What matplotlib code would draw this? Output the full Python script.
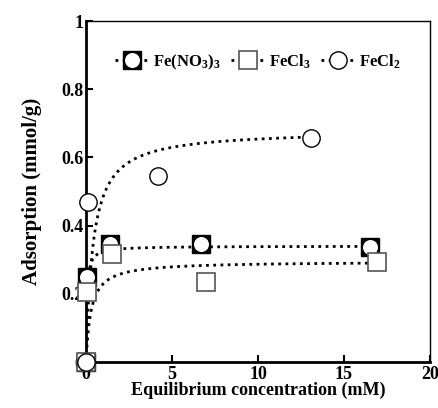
import numpy as np
import matplotlib
matplotlib.use("Agg")
import matplotlib.pyplot as plt
from matplotlib.lines import Line2D
from matplotlib.legend_handler import HandlerTuple

# ================= DATA =================
labels = [r"$\mathbf{Fe(NO_3)_3}$", r"$\mathbf{FeCl_3}$", r"$\mathbf{FeCl_2}$"]

c_nitrate = [0.0, 0.05, 1.4, 6.7, 16.5]
q_nitrate = [0.0, 0.25, 0.345, 0.345, 0.337]

c_fecl3 = [0.0, 0.05, 1.5, 7.0, 16.9]
q_fecl3 = [0.0, 0.205, 0.318, 0.235, 0.293]

c_fecl2 = [0.0, 0.1, 4.2, 13.1]
q_fecl2 = [0.0, 0.47, 0.546, 0.656]

# Langmuir fit parameters (qm, K)
fit_nitrate = (0.34, 20.0)
fit_fecl3 = (0.295, 3.5)
fit_fecl2 = (0.68, 2.5)

xticks = [0, 5, 10, 15, 20]
yticks = [0, 0.2, 0.4, 0.6, 0.8, 1.0]
yticklabels = ["0", "0.2", "0.4", "0.6", "0.8", "1"]


def langmuir(c, qm, k):
    """Langmuir isotherm."""
    return qm * k * c / (1 + k * c)


# ================= STYLE =================
plt.rcParams["font.family"] = "Liberation Serif"
plt.rcParams["font.weight"] = "bold"
plt.rcParams["mathtext.fontset"] = "custom"
plt.rcParams["mathtext.rm"] = "Liberation Serif:bold"
plt.rcParams["mathtext.bf"] = "Liberation Serif:bold"
plt.rcParams["mathtext.it"] = "Liberation Serif:bold"

dots = (0, (1, 1.6))
ms_sq = 12.5
ms_ci = 12.5
ms_in = 11.8

fig = plt.figure(figsize=(4.39, 4.08), dpi=100)
ax = fig.add_axes([0.196, 0.1127, 0.7835, 0.8358])

# fitted curves
for cdata, (qm, k) in [(c_nitrate, fit_nitrate), (c_fecl3, fit_fecl3),
                       (c_fecl2, fit_fecl2)]:
    cc = np.linspace(0, max(cdata), 400)
    ax.plot(cc, langmuir(cc, qm, k), color="black", lw=2, linestyle=dots,
            zorder=2)

# Fe(NO3)3: black square with white circle inside
ax.plot(c_nitrate, q_nitrate, "s", ms=ms_sq, mfc="black", mec="black",
        mew=1, clip_on=False, zorder=3)
ax.plot(c_nitrate, q_nitrate, "o", ms=ms_in, mfc="white", mec="black",
        mew=1, clip_on=False, zorder=4)

# FeCl3: open square
ax.plot(c_fecl3, q_fecl3, "s", ms=ms_sq, mfc="white", mec="#555555",
        mew=1.2, clip_on=False, zorder=5)

# FeCl2: open circle
ax.plot(c_fecl2, q_fecl2, "o", ms=ms_ci, mfc="white", mec="black",
        mew=1, clip_on=False, zorder=6)

ax.set_xlim(0, 20)
ax.set_ylim(0, 1)
ax.set_xticks(xticks)
ax.set_yticks(yticks)
ax.set_yticklabels(yticklabels)
ax.tick_params(direction="in", length=5, width=1.5, labelsize=13,
               top=False, right=False)
ax.tick_params(axis="y", pad=2)
ax.tick_params(axis="x", pad=3)
for lab in ax.get_xticklabels() + ax.get_yticklabels():
    lab.set_fontweight("bold")

ax.spines["left"].set_linewidth(2)
ax.spines["bottom"].set_linewidth(2)
ax.spines["top"].set_linewidth(1)
ax.spines["right"].set_linewidth(1)

ax.set_xlabel("Equilibrium concentration (mM)", fontsize=13,
              fontweight="bold", labelpad=-1)
ax.set_ylabel("Adsorption (mmol/g)", fontsize=15, fontweight="bold",
              labelpad=14)

# ================= LEGEND =================
h_nit = (
    Line2D([], [], color="black", lw=2, linestyle=dots, marker="s", ms=ms_sq,
           mfc="black", mec="black"),
    Line2D([], [], color="black", lw=0, marker="o", ms=ms_in, mfc="white",
           mec="black"),
)
h_cl3 = Line2D([], [], color="black", lw=2, linestyle=dots, marker="s",
               ms=ms_sq, mfc="white", mec="#555555", mew=1.2)
h_cl2 = Line2D([], [], color="black", lw=2, linestyle=dots, marker="o",
               ms=ms_ci, mfc="white", mec="black")

ax.legend([h_nit, h_cl3, h_cl2], labels,
          handler_map={tuple: HandlerTuple(ndivide=1)},
          loc="center", bbox_to_anchor=(0.5, 0.88), ncol=3, frameon=False,
          fontsize=12, handlelength=2.0, handletextpad=0.3,
          columnspacing=0.6)

plt.savefig("out.png", dpi=100)
